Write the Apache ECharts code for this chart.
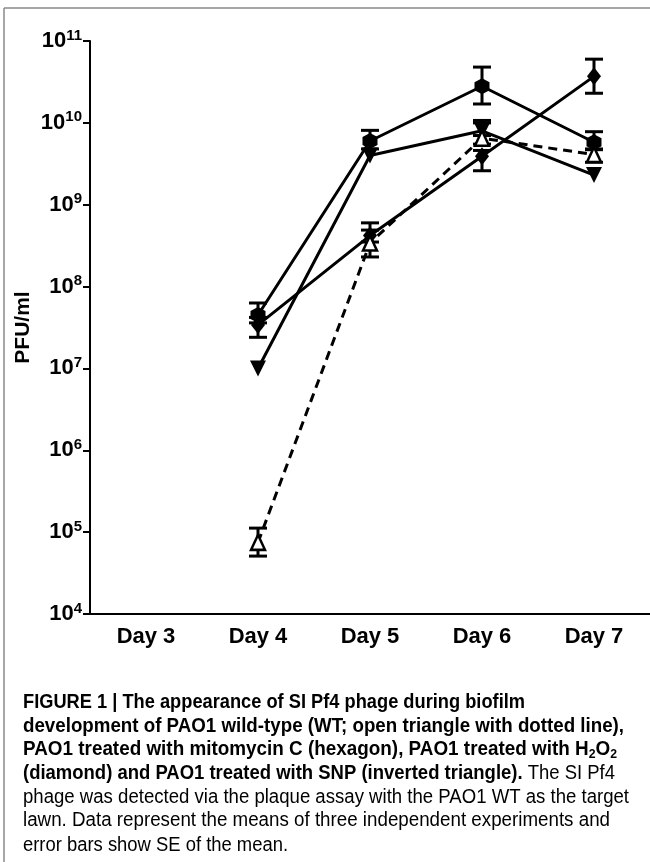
<!DOCTYPE html>
<html>
<head>
<meta charset="utf-8">
<script src="https://cdn.jsdelivr.net/npm/echarts@6/dist/echarts.min.js"></script>
<style>
html,body{margin:0;padding:0;background:#fff;}
#chart{width:650px;height:862px;}
</style>
</head>
<body>
<div id="chart"></div>
<script>
// ---- data ----
const days = ['Day 3', 'Day 4', 'Day 5', 'Day 6', 'Day 7'];
const yAxisName = 'PFU/ml';

const mitoMean = [null, 4.5e7, 6.0e9, 2.8e10, 5.8e9];
const mitoHigh = [null, 6.3e7, 8.1e9, 4.8e10, 7.8e9];
const mitoLow  = [null, 3.6e7, 4.8e9, 1.7e10, 4.8e9];

const h2o2Mean = [null, 3.4e7, 4.2e8, 3.9e9, 3.7e10];
const h2o2High = [null, 4.2e7, 4.9e8, 4.6e9, 6.0e10];
const h2o2Low  = [null, 2.4e7, 3.5e8, 2.6e9, 2.3e10];

const snpMean = [null, 1.0e7, 4.0e9, 8.0e9, 2.3e9];
const snpHigh = [null, null, null, 1.07e10, null];
const snpLow  = [null, null, null, 7.0e9, null];

const wtMean = [null, 7.5e4, 3.4e8, 6.5e9, 4.1e9];
const wtHigh = [null, 1.12e5, 6.0e8, 1.0e10, 4.7e9];
const wtLow  = [null, 5.1e4, 2.3e8, 5.5e9, 3.3e9];

const captionLines = [
  [['b', 'FIGURE 1 | The appearance of SI Pf4 phage during biofilm']],
  [['b', 'development of PAO1 wild-type (WT; open triangle with dotted line),']],
  [['b', 'PAO1 treated with mitomycin C (hexagon), PAO1 treated with H'], ['bs', '2'], ['b', 'O'], ['bs', '2']],
  [['b', '(diamond) and PAO1 treated with SNP (inverted triangle).'], ['n', ' The SI Pf4']],
  [['n', 'phage was detected via the plaque assay with the PAO1 WT as the target']],
  [['n', 'lawn. Data represent the means of three independent experiments and']],
  [['n', 'error bars show SE of the mean.']]
];

// ---- layout ----
const capX = 23;
const capY = [702, 726, 749, 773, 797, 820, 845];
const capW = [502, 601, 594, 592, 606, 587, 265];
const FONT = 'Liberation Sans, Arial, sans-serif';
const capStyles = {
  b: {font: 'bold 20px ' + FONT},
  bs: {font: 'bold 13px ' + FONT},
  n: {font: 'normal 20px ' + FONT}
};

const mctx = document.createElement('canvas').getContext('2d');
function measure(segs) {
  let w = 0;
  segs.forEach(s => { mctx.font = capStyles[s[0]].font; w += mctx.measureText(s[1]).width; });
  return w;
}

const graphics = [
  {type: 'line', shape: {x1: 4, y1: 8, x2: 650, y2: 8}, style: {stroke: '#8a8a8a', lineWidth: 1.5}},
  {type: 'line', shape: {x1: 4, y1: 8, x2: 4, y2: 862}, style: {stroke: '#8a8a8a', lineWidth: 1.5}}
];
captionLines.forEach((segs, i) => {
  const text = segs.map(s => '{' + s[0] + '|' + s[1] + '}').join('');
  const sc = capW[i] / measure(segs);
  graphics.push({
    type: 'text', x: capX, y: capY[i], scaleX: sc,
    style: {
      text: text, verticalAlign: 'middle', align: 'left',
      rich: {
        b: {fontFamily: FONT, fontWeight: 'bold', fontSize: 20, color: '#111', lineHeight: 24, verticalAlign: 'middle'},
        bs: {fontFamily: FONT, fontWeight: 'bold', fontSize: 13, color: '#111', lineHeight: 24, verticalAlign: 'bottom'},
        n: {fontFamily: FONT, fontSize: 20, color: '#444', lineHeight: 24, verticalAlign: 'middle'}
      }
    }
  });
});

function errData(mean, hi, lo) {
  const out = [];
  mean.forEach((m, i) => {
    if (m == null || (hi[i] == null && lo[i] == null)) return;
    out.push([i, m, hi[i] == null ? m : hi[i], lo[i] == null ? m : lo[i], hi[i] != null ? 1 : 0, lo[i] != null ? 1 : 0]);
  });
  return out;
}
function errSeries(mean, hi, lo, z) {
  return {
    type: 'custom', z: z, silent: true,
    data: errData(mean, hi, lo),
    renderItem: function (params, api) {
      const x = api.value(0);
      const pH = api.coord([x, api.value(2)]);
      const pL = api.coord([x, api.value(3)]);
      const st = {stroke: '#000', lineWidth: 3};
      const ch = [{type: 'line', shape: {x1: pH[0], y1: pH[1], x2: pL[0], y2: pL[1]}, style: st}];
      if (api.value(4)) ch.push({type: 'line', shape: {x1: pH[0] - 9, y1: pH[1], x2: pH[0] + 9, y2: pH[1]}, style: st});
      if (api.value(5)) ch.push({type: 'line', shape: {x1: pL[0] - 9, y1: pL[1], x2: pL[0] + 9, y2: pL[1]}, style: st});
      return {type: 'group', children: ch};
    }
  };
}

const hexPath = 'path://M0,-1 L0.866,-0.5 L0.866,0.5 L0,1 L-0.866,0.5 L-0.866,-0.5 Z';

const chart = echarts.init(document.getElementById('chart'));
chart.setOption({
  animation: false,
  backgroundColor: '#fff',
  grid: {left: 90, right: 0, top: 41, bottom: 248, containLabel: false},
  xAxis: {
    type: 'category', data: days, boundaryGap: true,
    axisLine: {lineStyle: {color: '#000', width: 2}},
    axisTick: {alignWithLabel: true, length: 6, lineStyle: {color: '#000', width: 2}},
    axisLabel: {color: '#000', fontFamily: FONT, fontWeight: 'bold', fontSize: 22, margin: 12}
  },
  yAxis: {
    type: 'log', logBase: 10, min: 1e4, max: 1e11, interval: 1,
    name: yAxisName, nameLocation: 'middle', nameGap: 56, nameRotate: 90, nameMoveOverlap: false,
    nameTextStyle: {color: '#000', fontFamily: FONT, fontWeight: 'bold', fontSize: 21},
    splitLine: {show: false},
    axisLine: {show: true, lineStyle: {color: '#000', width: 2}},
    axisTick: {show: true, length: 7, lineStyle: {color: '#000', width: 2}},
    axisLabel: {
      margin: 8, color: '#000',
      formatter: function (v) { return '{b|10}{s|' + Math.round(Math.log10(v)) + '}'; },
      rich: {
        b: {fontFamily: FONT, fontWeight: 'bold', fontSize: 22, lineHeight: 26, verticalAlign: 'middle', color: '#000'},
        s: {fontFamily: FONT, fontWeight: 'bold', fontSize: 15, lineHeight: 26, verticalAlign: 'top', color: '#000'}
      }
    }
  },
  graphic: graphics,
  series: [
    errSeries(mitoMean, mitoHigh, mitoLow, 2),
    errSeries(h2o2Mean, h2o2High, h2o2Low, 2),
    errSeries(snpMean, snpHigh, snpLow, 2),
    errSeries(wtMean, wtHigh, wtLow, 2),
    {
      name: 'Mitomycin C', type: 'line', data: mitoMean, z: 3,
      symbol: hexPath, symbolSize: [15, 16], showAllSymbol: true,
      lineStyle: {color: '#000', width: 3}, itemStyle: {color: '#000'}
    },
    {
      name: 'H2O2', type: 'line', data: h2o2Mean, z: 3,
      symbol: 'diamond', symbolSize: [14, 18], showAllSymbol: true,
      lineStyle: {color: '#000', width: 3}, itemStyle: {color: '#000'}
    },
    {
      name: 'SNP', type: 'line', data: snpMean, z: 3,
      symbol: 'triangle', symbolRotate: 180, symbolSize: [16, 16], showAllSymbol: true,
      lineStyle: {color: '#000', width: 3}, itemStyle: {color: '#000'}
    },
    {
      name: 'WT', type: 'line', data: wtMean, z: 4,
      symbol: 'triangle', symbolSize: [14, 15], showAllSymbol: true,
      lineStyle: {color: '#000', width: 3, type: [9, 6]},
      itemStyle: {color: '#fff', borderColor: '#000', borderWidth: 2.5}
    }
  ]
});
</script>
</body>
</html>
